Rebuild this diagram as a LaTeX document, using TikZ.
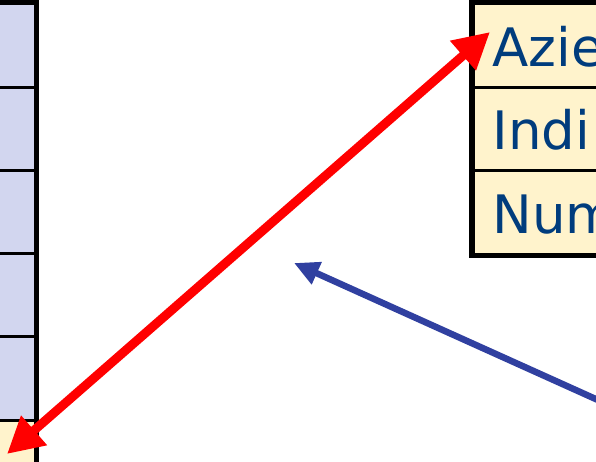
\documentclass[tikz,border=0pt]{standalone}
\usepackage{fontspec}
\newfontfamily\vfont{DejaVu Sans}
\usetikzlibrary{arrows.meta}
\definecolor{lav}{HTML}{D2D6EF}
\definecolor{ylw}{HTML}{FFF3CC}
\definecolor{txtblue}{HTML}{003C7D}
\definecolor{arrblue}{HTML}{3040A0}
\tikzset{
  lcell/.style={draw=black, line width=3pt, fill=lav, minimum width=120pt, minimum height=83.2pt, inner sep=0pt, anchor=north east},
  ycell/.style={lcell, fill=ylw},
  rcell/.style={draw=black, line width=3pt, fill=ylw, minimum height=83.33pt, text width=200pt, inner xsep=19.5pt, inner ysep=0pt, align=left, anchor=north west, text=txtblue, font=\vfont\fontsize{53}{64}\selectfont, text height=42pt, text depth=0pt},
  frame/.style={draw=black, line width=5.5pt},
  redarr/.style={draw=red, line width=9pt, {Triangle[length=36pt,width=37pt]}-{Triangle[length=36pt,width=37pt]}},
  bluearr/.style={draw=arrblue, line width=6.5pt, -{Triangle[length=25pt,width=23pt]}}
}
\begin{document}
\begin{tikzpicture}[x=1pt,y=-1pt]
\useasboundingbox (0,0) rectangle (596,462);
\clip (0,0) rectangle (596,462);
\fill[white] (0,0) rectangle (596,462);
% left column
\node[lcell] (l1) at (36.5,2.5) {};
\node[lcell] (l2) at (36.5,85.7) {};
\node[lcell] (l3) at (36.5,168.9) {};
\node[lcell] (l4) at (36.5,252.1) {};
\node[lcell] (l5) at (36.5,335.3) {};
\node[ycell] (l6) at (36.5,418.5) {};
\draw[frame] (l1.north west) -- (l1.north east) -- (l6.south east);
% right table
\node[rcell] (r1) at (471.5,2.5) {Azie};
\node[rcell] (r2) at (471.5,85.83) {Indi};
\node[rcell] (r3) at (471.5,169.17) {Num};
\draw[frame] (r1.north east) -- (r1.north west) -- (r3.south west) -- (r3.south east);
% arrows
\coordinate (ra) at (7,454);
\coordinate (rb) at (490,32);
\draw[redarr] (ra) -- (rb);
\coordinate (bs) at (660,428);
\coordinate (bt) at (294,263);
\draw[bluearr] (bs) -- (bt);
\end{tikzpicture}
\end{document}
